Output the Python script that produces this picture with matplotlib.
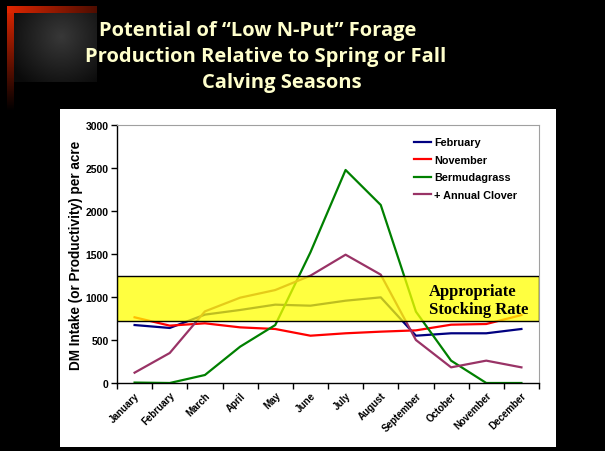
import matplotlib
matplotlib.use("Agg")
import matplotlib.pyplot as plt
import numpy as np
from matplotlib.patches import Rectangle
from matplotlib.lines import Line2D

MONTHS = ["January", "February", "March", "April", "May", "June", "July",
          "August", "September", "October", "November", "December"]
FEBRUARY = [674, 640, 795, 849, 911, 899, 957, 996, 550, 578, 578, 628]
NOVEMBER = [764, 667, 694, 647, 628, 550, 578, 597, 612, 678, 686, 790]
BERMUDAGRASS = [5, 0, 93, 422, 674, 1519, 2477, 2070, 830, 260, 0, 0]
CLOVER = [120, 349, 833, 992, 1081, 1248, 1492, 1260, 500, 182, 260, 182]
STOCK_LOW, STOCK_HIGH = 720, 1240

SERIES = [
    ("February", FEBRUARY, "#000080"),
    ("November", NOVEMBER, "#FF0000"),
    ("Bermudagrass", BERMUDAGRASS, "#008000"),
    ("+ Annual Clover", CLOVER, "#993366"),
]

W, H = 605, 452
fig = plt.figure(figsize=(W / 100, H / 100), dpi=100, facecolor="black")

# background decoration in pixel coordinates
deco = fig.add_axes([0, 0, 1, 1], zorder=0)
deco.set_xlim(0, W)
deco.set_ylim(H, 0)
deco.axis("off")
deco.set_facecolor("black")

# red L-shaped frame fading to black
vgrad = np.linspace(1, 0, 100)[:, None, None] * np.array([0.88, 0.15, 0.0])
deco.imshow(np.repeat(vgrad, 2, axis=1), extent=(7, 14, 112, 7), aspect="auto", zorder=1)
hgrad = np.linspace(1, 0.35, 100)[None, :, None] * np.array([0.88, 0.15, 0.0])
deco.imshow(np.repeat(hgrad, 2, axis=0), extent=(7, 97, 14, 7), aspect="auto", zorder=1)

# dark grey block
yy, xx = np.mgrid[0:60, 0:80]
r = np.sqrt(((xx - 45) / 50.0) ** 2 + ((yy - 20) / 45.0) ** 2)
g = np.clip(0.22 - 0.16 * r, 0.04, 0.25)
deco.imshow(np.dstack([g, g, g]), extent=(14, 97, 83, 14), aspect="auto", zorder=1)

# white chart panel
deco.add_patch(Rectangle((60, 110), 496, 338, facecolor="white", edgecolor="none", zorder=2))

# title
title_lines = [
    ("Potential of \u201cLow N-Put\u201d Forage", 258, 31),
    ("Production Relative to Spring or Fall", 266, 57),
    ("Calving Seasons", 282, 83),
]
for txt, cx, cy in title_lines:
    deco.text(cx, cy, txt, color="#FFFFCC", fontsize=14.5, fontweight="bold",
              family="Open Sans", ha="center", va="center", zorder=3)

# main chart
ax = fig.add_axes([117 / W, 1 - 384 / H, 422 / W, 258 / H], zorder=2)
ax.set_facecolor("white")
x = np.arange(len(MONTHS)) + 0.5
for label, vals, color in SERIES:
    ax.plot(x, vals, color=color, lw=1.6, label=label, zorder=2)

ax.add_patch(Rectangle((0, STOCK_LOW), 12, STOCK_HIGH - STOCK_LOW,
                       facecolor=(1, 1, 0, 0.75), edgecolor="black", lw=1, zorder=3))
ax.text(8.87, (STOCK_LOW + STOCK_HIGH) / 2 - 15, "Appropriate\nStocking Rate",
        family="Liberation Serif", fontweight="bold", fontsize=12,
        ha="left", va="center", linespacing=1.15, zorder=4)

ax.set_xlim(0, 12)
ax.set_ylim(0, 3000)
ax.set_yticks(np.arange(0, 3001, 500))
ax.set_xticks(np.arange(0, 13))
ax.set_xticklabels([])
ax.set_xticks(x, minor=True)
ax.set_xticklabels(MONTHS, minor=True, rotation=45, ha="right",
                   rotation_mode="anchor", fontsize=7, fontweight="bold",
                   family="Liberation Sans")
ax.tick_params(axis="x", which="minor", length=0, pad=5)
ax.tick_params(axis="x", which="major", length=4, direction="out", width=1)
ax.tick_params(axis="y", length=4, direction="out", width=1, pad=2)
for lbl in ax.get_yticklabels():
    lbl.set_fontsize(7.5)
    lbl.set_fontweight("bold")
    lbl.set_family("Liberation Sans")
for side in ("top", "right"):
    ax.spines[side].set_color("#A0A0A0")
for side in ("left", "bottom"):
    ax.spines[side].set_color("black")
    ax.spines[side].set_linewidth(1)

ax.set_ylabel("DM Intake (or Productivity) per acre", fontsize=9.8,
              fontweight="bold", family="Liberation Sans", labelpad=2)

handles = [Line2D([], [], color=c, lw=1.6) for _, _, c in SERIES]
leg = ax.legend(handles, [s[0] for s in SERIES], loc="upper left",
                bbox_to_anchor=(0.68, 0.99), frameon=False,
                prop={"family": "Liberation Sans", "weight": "bold", "size": 7.8},
                handlelength=1.6, handletextpad=0.3, labelspacing=0.7)
leg.set_zorder(5)

fig.savefig("out.png", dpi=100, facecolor="black")
